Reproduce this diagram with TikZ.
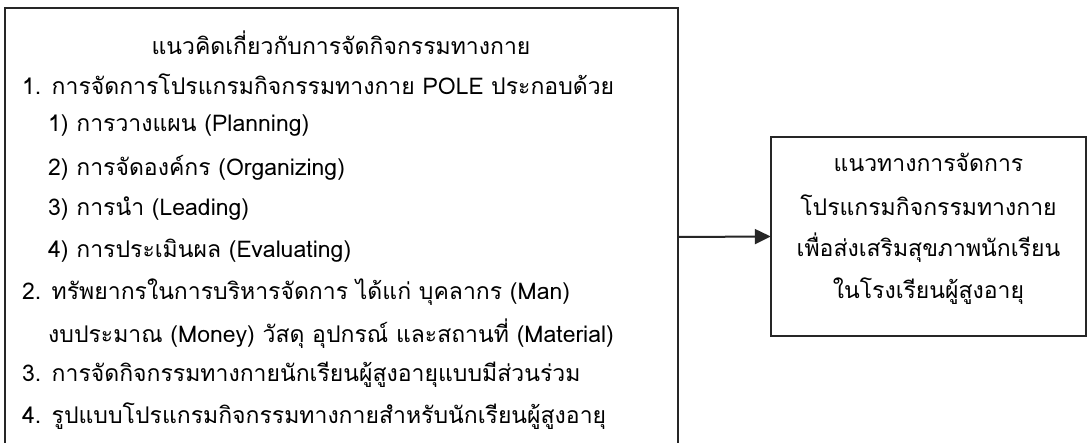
\documentclass[tikz,border=0pt]{standalone}
\usepackage{fontspec}
\newfontfamily\thaifont[Script=Thai]{Loma}
\usetikzlibrary{arrows.meta}
\begin{document}
\begin{tikzpicture}[x=1pt,y=-1pt,
  box/.style={draw=black!85,line width=2pt},
  txt/.style={font=\thaifont\fontsize{23}{23}\selectfont,inner sep=0pt,anchor=west},
  ctxt/.style={font=\thaifont\fontsize{23}{23}\selectfont,inner sep=0pt,anchor=center}]
\clip (0,0) rectangle (1090,442);
\useasboundingbox (0,0) rectangle (1090,442);
\fill[white] (0,0) rectangle (1090,442);
\draw[box] (5,8) rectangle (678,460);
\coordinate (L) at (678,237);
\node[draw=none,minimum width=315pt,minimum height=199pt,inner sep=0pt] (R) at (928.5,236.5) {};
\draw[box] (R.north west) rectangle (R.south east);
\draw[line width=2pt,draw=black!85,-{Triangle[length=16pt,width=15pt]}] (L) -- (R.west);
\node[ctxt] (t0) at (341,43) {แนวคิดเกี่ยวกับการจัดกิจกรรมทางกาย};
\node[txt] (t1) at (22,84.5) {1. การจัดการโปรแกรมกิจกรรมทางกาย POLE ประกอบด้วย};
\node[txt] (t2) at (48,126) {1) การวางแผน (Planning)};
\node[txt] (t3) at (48,167.5) {2) การจัดองค์กร (Organizing)};
\node[txt] (t4) at (48,209) {3) การนำ (Leading)};
\node[txt] (t5) at (48,250.5) {4) การประเมินผล (Evaluating)};
\node[txt] (t6) at (22,292) {2. ทรัพยากรในการบริหารจัดการ ได้แก่ บุคลากร (Man)};
\node[txt] (t7) at (48,333.5) {งบประมาณ (Money) วัสดุ อุปกรณ์ และสถานที่ (Material)};
\node[txt] (t8) at (22,375) {3. การจัดกิจกรรมทางกายนักเรียนผู้สูงอายุแบบมีส่วนร่วม};
\node[txt] (t9) at (22,416.5) {4. รูปแบบโปรแกรมกิจกรรมทางกายสำหรับนักเรียนผู้สูงอายุ};
\node[ctxt] (r1) at (928.5,162) {แนวทางการจัดการ};
\node[ctxt] (r2) at (928.5,205) {โปรแกรมกิจกรรมทางกาย};
\node[ctxt] (r3) at (928.5,248) {เพื่อส่งเสริมสุขภาพนักเรียน};
\node[ctxt] (r4) at (928.5,291) {ในโรงเรียนผู้สูงอายุ};
\end{tikzpicture}
\end{document}
